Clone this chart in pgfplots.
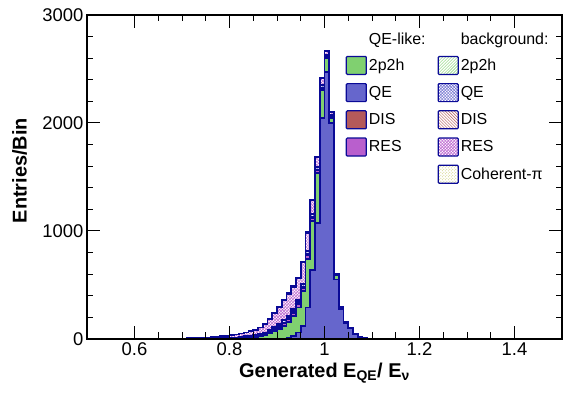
\documentclass[border=0pt]{standalone}
\usepackage{pgfplots}
\pgfplotsset{compat=1.18}
\usepackage{pgfplotstable}
\usetikzlibrary{patterns}
\usepackage{fontspec}
\setmainfont{Liberation Sans}
\definecolor{navyc}{RGB}{10,10,150}
\definecolor{qec}{RGB}{102,102,204}
\definecolor{tpc}{RGB}{128,208,112}
\definecolor{disc}{RGB}{180,90,90}
\definecolor{resc}{RGB}{185,95,205}
\definecolor{cohc}{RGB}{200,200,110}
\pgfplotstableread{
x Q P D R bP bQ bD bR C
0.50 0 0 0 0 0 0 0 0 0
0.66 0 0 0 0 0 0 0 2 0
0.67 0 0 0 0 0 0 0 3 0
0.68 0 0 0 0 0 1 0 3 0
0.69 0 0 0 0 0 1 0 4 0
0.70 0 0 0 0 0 1 0 5 0
0.71 0 0 0 0 0 1 0 6 0
0.72 0 0 0 1 0 1 1 6 0
0.73 0 0 0 1 1 1 0 8 0
0.74 0 1 0 1 1 1 0 9 0
0.75 0 1 0 1 1 1 1 10 0
0.76 0 1 0 1 1 2 1 12 0
0.77 0 2 0 1 1 2 1 14 0
0.78 0 2 0 1 1 2 1 17 1
0.79 0 3 0 2 2 3 1 18 1
0.80 0 4 0 2 2 3 1 23 1
0.81 0 6 0 3 2 3 1 27 1
0.82 0 8 1 3 2 4 2 30 1
0.83 0 11 1 4 3 4 2 34 1
0.84 0 14 1 5 3 5 2 40 2
0.85 0 19 1 6 4 6 2 48 2
0.86 0 25 1 8 4 7 3 58 2
0.87 0 35 1 10 5 8 3 75 3
0.88 0 50 1 13 6 11 4 97 3
0.89 0 68 1 16 8 13 5 125 4
0.90 1 90 1 20 9 15 6 153 5
0.91 3 115 2 23 10 17 7 178 5
0.92 8 145 2 26 11 19 8 200 6
0.93 25 185 2 28 11 20 8 205 6
0.94 60 230 2 30 11 20 7 204 6
0.95 120 320 2 32 12 22 7 195 6
0.96 290 450 2 30 13 28 8 162 7
0.97 640 450 2 25 10 27 6 121 6
0.98 1074 463 2 20 8 25 4 90 4
0.99 2046 260 1 15 6 22 3 61 3
1.00 2472 130 1 8 4 14 2 34 2
1.01 2000 46 1 4 4 16 2 30 2
1.02 550 40 0 2 1 5 1 8 1
1.03 280 15 0 1 0 2 0 2 0
1.04 150 5 0 0 0 1 0 2 0
1.05 100 3 0 0 0 1 0 1 0
1.06 48 1 0 0 0 1 0 0 0
1.07 20 1 0 0 0 1 0 0 0
1.08 8 0 0 0 0 0 0 0 0
1.09 3 0 0 0 0 0 0 0 0
1.10 1 0 0 0 0 0 0 0 0
1.11 0 0 0 0 0 0 0 0 0
1.50 0 0 0 0 0 0 0 0 0
}\histdata
\begin{document}
\begin{tikzpicture}
\begin{axis}[
  scale only axis, width=475bp, height=324bp,
  xmin=0.5, xmax=1.5, ymin=0, ymax=3000,
  xtick={0.6,0.8,1,1.2,1.4}, minor x tick num=3,
  ytick={0,1000,2000,3000}, minor y tick num=4,
  scaled y ticks=false,
  /pgf/number format/1000 sep={},
  /pgf/number format/assume math mode=true,
  tick align=inside,
  major tick length=13bp, minor tick length=6.5bp,
  tick style={black, line width=1bp},
  axis line style={black, line width=1.2bp},
  axis on top,
  tick label style={font=\fontsize{18.5}{20}\selectfont},
  xlabel={\bfseries Generated E\textsubscript{QE}/ E\textsubscript{ν}},
  ylabel={\bfseries Entries/Bin},
  label style={font=\fontsize{20}{22}\selectfont},
  xlabel style={at={(axis description cs:0.5,-0.120)}, anchor=base},
  ylabel style={at={(axis description cs:-0.127,0.52)}, anchor=base},
  stack plots=y,
  legend columns=2,
  legend cell align=left,
  legend image code/.code={\draw[#1, draw=navyc, line width=1.2bp, rounded corners=1bp] (0bp,-9bp) rectangle (20bp,9bp);},
  legend style={draw=none, fill=none, at={(axis description cs:0.538,0.958)}, anchor=north west,
    font=\fontsize{16}{18}\selectfont, row sep=8bp,
    /tikz/every even column/.append style={column sep=10bp}},
  every axis plot/.append style={const plot mark left, draw=navyc, line width=1.6bp, mark=none, forget plot},
]
\addplot[fill=qec] table[x=x,y=Q]{\histdata} \closedcycle;
\addplot[fill=tpc] table[x=x,y=P]{\histdata} \closedcycle;
\addplot[fill=disc] table[x=x,y=D]{\histdata} \closedcycle;
\addplot[fill=resc] table[x=x,y=R]{\histdata} \closedcycle;
\addplot[pattern=north east lines, pattern color=tpc] table[x=x,y=bP]{\histdata} \closedcycle;
\addplot[pattern=crosshatch, pattern color=qec] table[x=x,y=bQ]{\histdata} \closedcycle;
\addplot[pattern=north west lines, pattern color=disc] table[x=x,y=bD]{\histdata} \closedcycle;
\addplot[pattern=crosshatch, pattern color=resc] table[x=x,y=bR]{\histdata} \closedcycle;
\addplot[pattern=crosshatch dots, pattern color=cohc] table[x=x,y=C]{\histdata} \closedcycle;
\addlegendimage{empty legend}\addlegendentry{\rule[-10bp]{0pt}{21bp}QE-like:}
\addlegendimage{empty legend}\addlegendentry{\rule[-10bp]{0pt}{21bp}background:}
\addlegendimage{fill=tpc}\addlegendentry{2p2h}
\addlegendimage{pattern=north east lines, pattern color=tpc}\addlegendentry{2p2h}
\addlegendimage{fill=qec}\addlegendentry{QE}
\addlegendimage{pattern=crosshatch, pattern color=qec}\addlegendentry{QE}
\addlegendimage{fill=disc}\addlegendentry{DIS}
\addlegendimage{pattern=north west lines, pattern color=disc}\addlegendentry{DIS}
\addlegendimage{fill=resc}\addlegendentry{RES}
\addlegendimage{pattern=crosshatch, pattern color=resc}\addlegendentry{RES}
\addlegendimage{empty legend}\addlegendentry{}
\addlegendimage{pattern=crosshatch dots, pattern color=cohc}\addlegendentry{Coherent-π}
\end{axis}
\pgfresetboundingbox
\path[use as bounding box] (-87bp,-56bp) rectangle (476bp,339bp);
\end{tikzpicture}
\end{document}
